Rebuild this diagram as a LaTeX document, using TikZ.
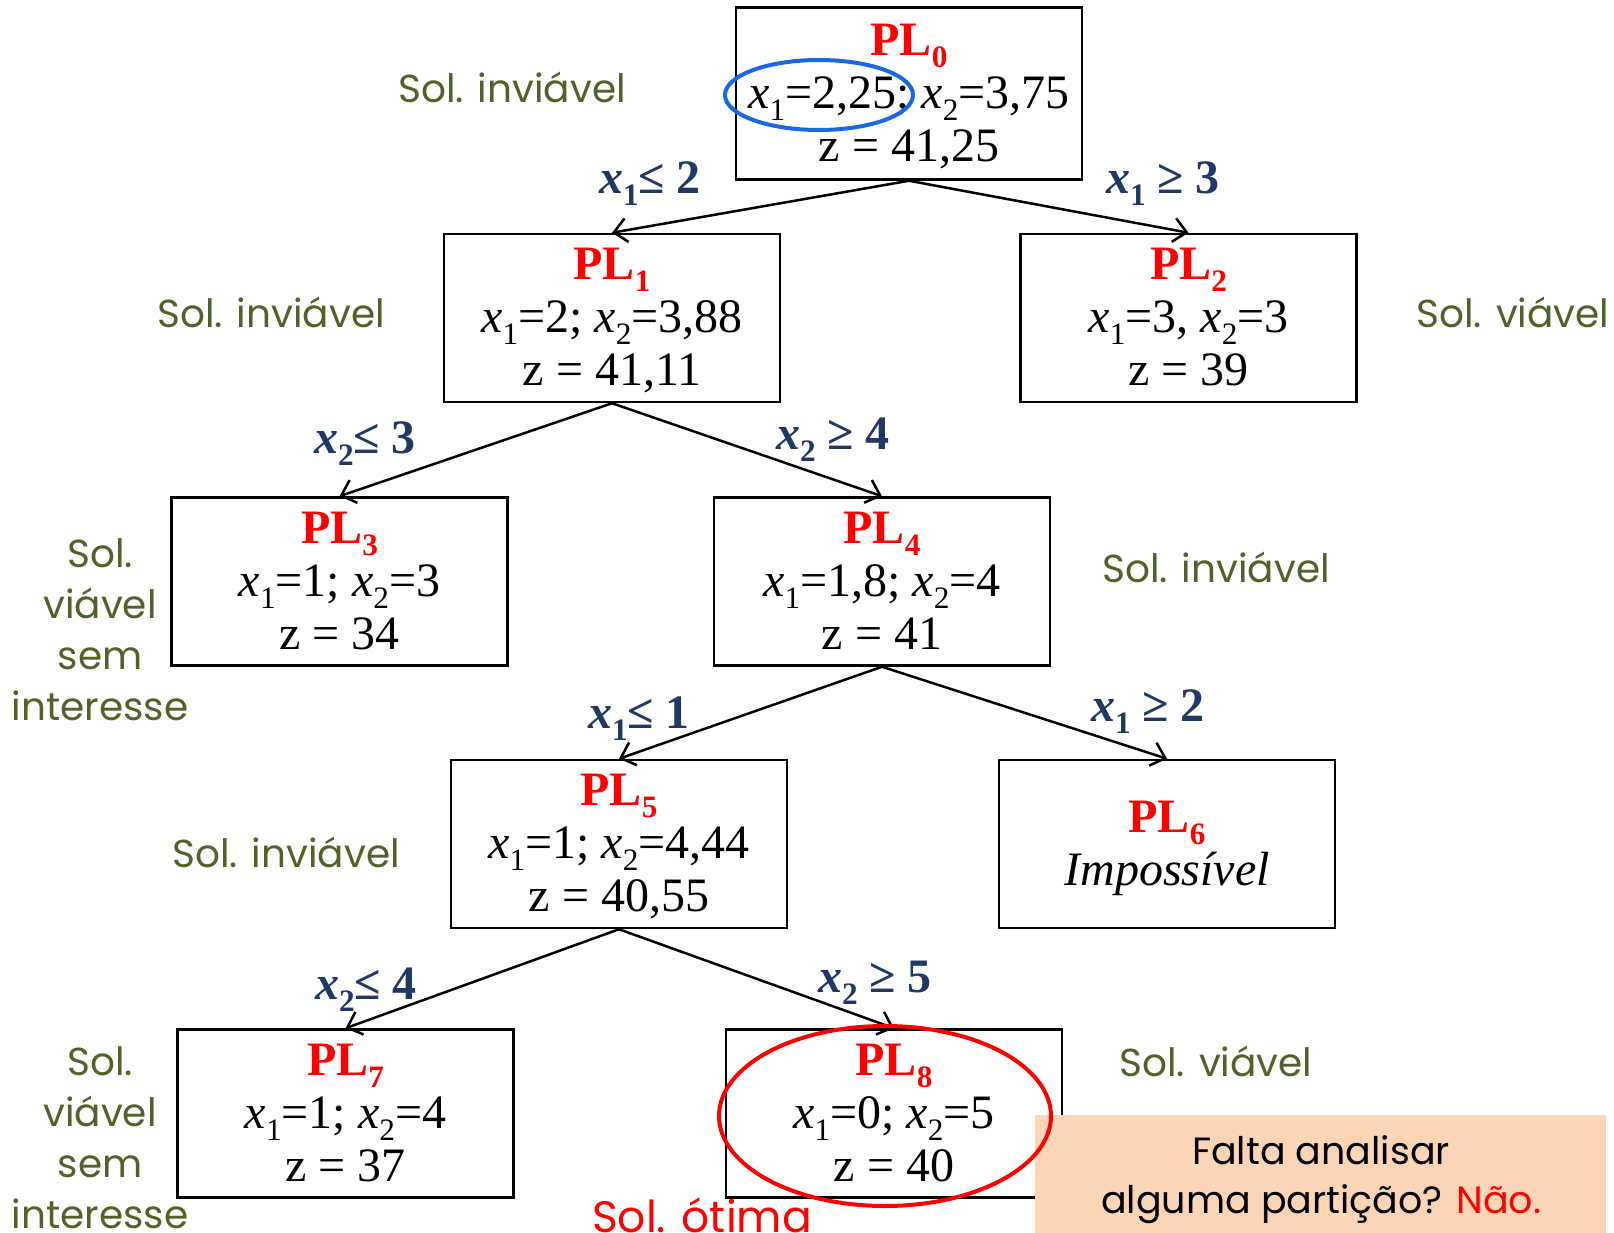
\documentclass[tikz,border=0pt]{standalone}
\usepackage{fontspec}
\setmainfont{Liberation Serif}
\newfontfamily\comicf{Poppins}
\usetikzlibrary{arrows.meta}
\definecolor{solgreen}{RGB}{79,98,40}
\definecolor{cutblue}{RGB}{31,56,100}
\definecolor{noteorange}{RGB}{251,213,181}
\definecolor{ellblue}{RGB}{25,105,230}
\newcommand\mysub[1]{\raisebox{-0.25em}{\scalebox{0.65}{#1}}}
\newcommand\plname[1]{\textcolor{red}{\textbf{PL\mysub{#1}}}}
\newcommand\xv[1]{\textit{x}\mysub{#1}}
\newcommand\boxtext[1]{\raisebox{-4pt}[\height][\depth]{\begin{tabular}{@{}c@{}}#1\end{tabular}}}
\begin{document}
\begin{tikzpicture}[x=1pt,y=-1pt,
  plbox/.style={draw, line width=2.5pt, minimum width=336pt, minimum height=168pt, inner sep=0pt, font=\fontsize{48}{53}\selectfont},
  gtext/.style={text=solgreen, font=\comicf\fontsize{39}{51}\selectfont, align=center, inner sep=0pt},
  cutlab/.style={text=cutblue, font=\fontsize{48}{48}\selectfont\bfseries, inner sep=0pt},
  treeedge/.style={line width=2.5pt, -{Straight Barb[length=13pt,width=24pt]}},
  notebox/.style={fill=noteorange, minimum width=571pt, minimum height=118pt, inner sep=0pt, align=center, font=\comicf\fontsize{38}{49}\selectfont}]
\useasboundingbox (0,0) rectangle (1614,1233);
% boxes
\node[plbox, minimum width=346pt, minimum height=172pt] (p0) at (909,93.5) {\boxtext{\plname{0}\\\xv{1}=2,25; \xv{2}=3,75\\z = 41,25}};
\node[plbox] (p1) at (612,318) {\boxtext{\plname{1}\\\xv{1}=2; \xv{2}=3,88\\z = 41,11}};
\node[plbox] (p2) at (1188.5,318) {\boxtext{\plname{2}\\\xv{1}=3, \xv{2}=3\\z = 39}};
\node[plbox] (p3) at (339.5,581.5) {\boxtext{\plname{3}\\\xv{1}=1; \xv{2}=3\\z = 34}};
\node[plbox] (p4) at (882,581.5) {\boxtext{\plname{4}\\\xv{1}=1,8; \xv{2}=4\\z = 41}};
\node[plbox] (p5) at (619,844) {\boxtext{\plname{5}\\\xv{1}=1; \xv{2}=4,44\\z = 40,55}};
\node[plbox] (p6) at (1167,844) {\boxtext{\plname{6}\\\textit{Impossível}}};
\node[plbox] (p7) at (345.5,1113.5) {\boxtext{\plname{7}\\\xv{1}=1; \xv{2}=4\\z = 37}};
\node[plbox] (p8) at (894,1113.5) {\boxtext{\plname{8}\\\xv{1}=0; \xv{2}=5\\z = 40}};
% edges
\draw[treeedge] (p0.south) -- (p1.north);
\draw[treeedge] (p0.south) -- (p2.north);
\draw[treeedge] (p1.south) -- (p3.north);
\draw[treeedge] (p1.south) -- (p4.north);
\draw[treeedge] (p4.south) -- (p5.north);
\draw[treeedge] (p4.south) -- (p6.north);
\draw[treeedge] (p5.south) -- (p7.north);
\draw[treeedge] (p5.south) -- (p8.north);
% cut labels
\node[cutlab] (c1) at (650,184) {\textit{x}\mysub{1}≤ 2};
\node[cutlab] (c2) at (1163,184) {\textit{x}\mysub{1} ≥ 3};
\node[cutlab] (c3) at (365,444) {\textit{x}\mysub{2}≤ 3};
\node[cutlab] (c4) at (833,440) {\textit{x}\mysub{2} ≥ 4};
\node[cutlab] (c5) at (639,719) {\textit{x}\mysub{1}≤ 1};
\node[cutlab] (c6) at (1148,712) {\textit{x}\mysub{1} ≥ 2};
\node[cutlab] (c7) at (366,990) {\textit{x}\mysub{2}≤ 4};
\node[cutlab] (c8) at (875,983) {\textit{x}\mysub{2} ≥ 5};
% green labels
\node[gtext] (g0) at (512,87) {Sol. inviável};
\node[gtext] (g1) at (271,312) {Sol. inviável};
\node[gtext] (g2) at (1513,312) {Sol. viável};
\node[gtext] (g3) at (100,630) {Sol.\\viável\\sem\\interesse};
\node[gtext] (g4) at (1216,567) {Sol. inviável};
\node[gtext] (g5) at (286,852) {Sol. inviável};
\node[gtext] (g7) at (100,1138) {Sol.\\viável\\sem\\interesse};
\node[gtext] (g8) at (1216,1061) {Sol. viável};
\node[gtext, text=red, font=\comicf\fontsize{44}{51}\selectfont] (opt) at (702,1215) {Sol. ótima};
% blue ellipse
\draw[ellblue, line width=4pt] (819,95) ellipse [x radius=94pt, y radius=35pt];
% note box
\fill[noteorange] (1035,1115) rectangle (1606,1233);
\node[inner sep=0pt, align=center, font=\comicf\fontsize{38}{49}\selectfont] (note) at (1321,1180) {Falta analisar\\alguma partição? \textcolor{red}{Não.}};
% red ellipse
\draw[red, line width=4pt] (885,1116) ellipse [x radius=166pt, y radius=90pt];
\end{tikzpicture}
\end{document}
